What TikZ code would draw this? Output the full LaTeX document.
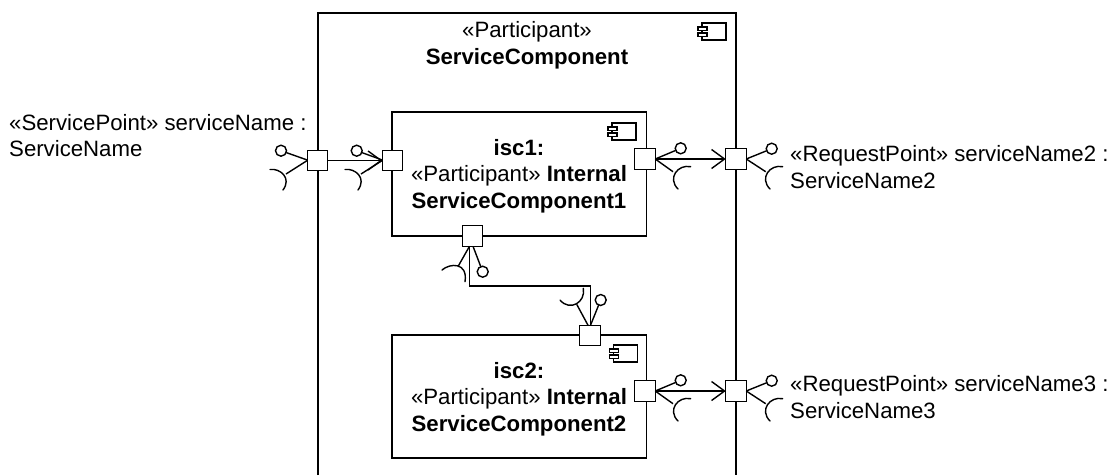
\documentclass[tikz,border=0pt]{standalone}
\usepackage{fontspec}
\setmainfont{Liberation Sans}
\usetikzlibrary{arrows.meta}
\tikzset{
  line/.style={draw=black,line width=1.4pt},
  portbox/.style={line,fill=white,minimum size=20.5pt,inner sep=0pt,outer sep=0pt},
  partbox/.style={line,inner sep=0pt,outer sep=0pt},
  lolly/.style={line,circle,minimum size=11pt,inner sep=0pt,outer sep=0pt},
  label/.style={inner sep=0pt,font=\fontsize{22.2pt}{26.6pt}\selectfont},
  wire/.style={line,-{Straight Barb[length=13pt,width=19pt,line width=1.4pt]}},
  sock/.style={line,line cap=round},
  pics/compicon/.style={code={
    \draw[line,line width=1.2pt] (0,0) rectangle (24,17);
    \draw[line,line width=1.2pt,fill=white] (-4,4) rectangle (5,7.5);
    \draw[line,line width=1.2pt,fill=white] (-4,10) rectangle (5,13.5);
  }}
}
\begin{document}
\begin{tikzpicture}[x=1pt,y=-1pt]
\useasboundingbox (0,0) rectangle (1118,475);
% containers
\draw[line] (318,475) -- (318,13) -- (736,13) -- (736,475);
\node[partbox,minimum width=254.5pt,minimum height=124pt,anchor=north west] (isc1) at (392,112) {};
\node[partbox,minimum width=254.5pt,minimum height=123pt,anchor=north west] (isc2) at (392,335) {};
\pic at (702,23) {compicon};
\pic at (612,123) {compicon};
\pic at (613.5,345) {compicon};
% ports
\node[portbox] (pa) at (317.5,160.5) {};
\node[portbox] (pb) at (392.5,160.5) {};
\node[portbox] (pc) at (645,159) {};
\node[portbox] (pd) at (736,159) {};
\node[portbox] (pe) at (472.5,236) {};
\node[portbox] (pf) at (590,335.5) {};
\node[portbox] (pg) at (645,391) {};
\node[portbox] (ph) at (736,391) {};
% lollipops
\node[lolly] (la) at (281,150.7) {};
\node[lolly] (lb) at (356.7,150.7) {};
\node[lolly] (lc) at (680.7,148.3) {};
\node[lolly] (ld) at (771.7,148.7) {};
\node[lolly] (le) at (482.7,271.7) {};
\node[lolly] (lf) at (600.7,300) {};
\node[lolly] (lg) at (680.7,380.3) {};
\node[lolly] (lh) at (771.7,380.7) {};
\draw[line] (pa.west) ++(0,-0.5) -- (la);
\draw[line] (pb.west) ++(0,-0.5) -- (lb);
\draw[line] (pc.east) -- (lc);
\draw[line] (pd.east) -- (ld);
\draw[line] (pe.south) ++(0.5,0) -- (le);
\draw[line] (pf.north) ++(0.5,0) -- (lf);
\draw[line] (pg.east) -- (lg);
\draw[line] (ph.east) -- (lh);
% sockets
\coordinate (sa) at (286,174);
\coordinate (sb) at (361,174);
\coordinate (sc) at (673,171.7);
\coordinate (sd) at (765.7,171.7);
\coordinate (se) at (458.3,266);
\coordinate (sf) at (576.7,304.3);
\coordinate (sg) at (673,403.7);
\coordinate (sh) at (765.7,403.7);
\draw[line] (pa.west) -- (sa);
\draw[line] (pb.west) -- (sb);
\draw[line] (pc.east) -- (sc);
\draw[line] (pd.east) -- (sd);
\draw[line] (pe.south) ++(-3,0) -- (se);
\draw[line] (pf.north) ++(-2,0) -- (sf);
\draw[line] (pg.east) -- (sg);
\draw[line] (ph.east) -- (sh);
\draw[sock] (270,169.5) .. controls (280,168) and (292,178) .. (283,190);
\draw[sock] (345,169.5) .. controls (355,168) and (367,178) .. (358,190);
\draw[sock] (690.7,166.7) .. controls (678,164) and (667,178) .. (678,189);
\draw[sock] (782.7,166.7) .. controls (770,164) and (759,178) .. (770,189);
\draw[sock] (442,270) .. controls (450,263) and (468,262) .. (465,281.7);
\draw[sock] (583.3,288.3) .. controls (586,302) and (570,312) .. (560,300);
\draw[sock] (690.7,398.7) .. controls (678,396) and (667,410) .. (678,421);
\draw[sock] (782.7,398.7) .. controls (770,396) and (759,410) .. (770,421);
% connectors
\draw[wire] (pa.east) -- (pb.west);
\draw[wire] (pc.east) -- (pd.west);
\draw[wire] (pg.east) -- (ph.west);
\draw[line] (469.5,246) |- (590.5,286) -- (590.5,325.5);
% labels
\node[label,align=center,anchor=base] (tmain) at (527,64) {«Participant»\\\textbf{ServiceComponent}};
\node[label,align=center,anchor=base] (t1) at (519,208.5) {\textbf{isc1:}\\«Participant» \textbf{Internal}\\\textbf{ServiceComponent1}};
\node[label,align=center,anchor=base] (t2) at (519,431.5) {\textbf{isc2:}\\«Participant» \textbf{Internal}\\\textbf{ServiceComponent2}};
\node[label,align=left,anchor=base west] (ta) at (9,156.7) {«ServicePoint» serviceName :\\ServiceName};
\node[label,align=left,anchor=base west] (td) at (790,188.3) {«RequestPoint» serviceName2 :\\ServiceName2};
\node[label,align=left,anchor=base west] (th) at (790,418.5) {«RequestPoint» serviceName3 :\\ServiceName3};
\end{tikzpicture}
\end{document}
